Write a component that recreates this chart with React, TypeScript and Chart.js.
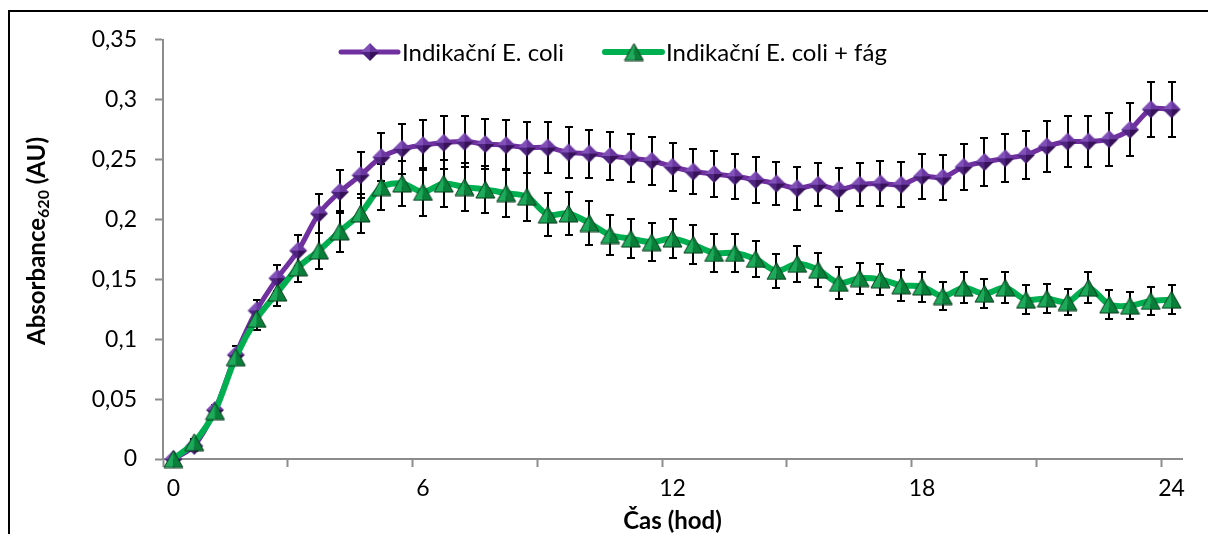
import React, { useEffect, useRef } from 'react';
import { Chart, registerables } from 'chart.js';

Chart.register(...registerables);

// ---- data ----
const hours = [0, 0.5, 1, 1.5, 2, 2.5, 3, 3.5, 4, 4.5, 5, 5.5, 6, 6.5, 7, 7.5, 8, 8.5, 9, 9.5, 10, 10.5, 11, 11.5, 12, 12.5, 13, 13.5, 14, 14.5, 15, 15.5, 16, 16.5, 17, 17.5, 18, 18.5, 19, 19.5, 20, 20.5, 21, 21.5, 22, 22.5, 23, 23.5, 24];
const labeledHours = [0, 6, 12, 18, 24];
const seriesNames = ['Indikační E. coli', 'Indikační E. coli + fág'];
const coliValues = [0, 0.011, 0.041, 0.087, 0.124, 0.151, 0.174, 0.205, 0.223, 0.237, 0.252, 0.259, 0.262, 0.264, 0.265, 0.263, 0.262, 0.260, 0.260, 0.256, 0.255, 0.253, 0.251, 0.249, 0.244, 0.240, 0.238, 0.236, 0.233, 0.230, 0.226, 0.229, 0.225, 0.229, 0.230, 0.229, 0.236, 0.235, 0.244, 0.248, 0.251, 0.254, 0.261, 0.265, 0.265, 0.267, 0.275, 0.292, 0.292];
const coliErrors = [0.002, 0.004, 0.004, 0.007, 0.009, 0.011, 0.013, 0.016, 0.018, 0.019, 0.020, 0.021, 0.021, 0.022, 0.021, 0.021, 0.021, 0.021, 0.021, 0.021, 0.020, 0.020, 0.020, 0.020, 0.020, 0.019, 0.019, 0.019, 0.019, 0.018, 0.018, 0.018, 0.018, 0.018, 0.019, 0.019, 0.019, 0.019, 0.019, 0.020, 0.020, 0.020, 0.021, 0.021, 0.021, 0.022, 0.022, 0.023, 0.023];
const phageValues = [0, 0.014, 0.040, 0.085, 0.117, 0.139, 0.160, 0.174, 0.190, 0.205, 0.227, 0.230, 0.223, 0.230, 0.227, 0.225, 0.222, 0.219, 0.204, 0.205, 0.197, 0.187, 0.184, 0.181, 0.184, 0.179, 0.172, 0.172, 0.167, 0.157, 0.163, 0.158, 0.147, 0.151, 0.150, 0.145, 0.144, 0.136, 0.143, 0.138, 0.143, 0.133, 0.134, 0.131, 0.143, 0.129, 0.128, 0.132, 0.133];
const phageErrors = [0.002, 0.003, 0.003, 0.004, 0.009, 0.011, 0.012, 0.015, 0.017, 0.016, 0.019, 0.019, 0.020, 0.020, 0.020, 0.020, 0.020, 0.020, 0.018, 0.018, 0.018, 0.017, 0.016, 0.016, 0.016, 0.016, 0.016, 0.016, 0.015, 0.014, 0.015, 0.014, 0.013, 0.013, 0.013, 0.013, 0.0125, 0.012, 0.013, 0.012, 0.013, 0.012, 0.012, 0.011, 0.013, 0.012, 0.0115, 0.012, 0.012];
const xTitle = 'Čas (hod)';
const yTitleMain = 'Absorbance';
const yTitleSub = '620';
const yTitleUnit = ' (AU)';

const FONT = 'Lato';
const PURPLE = '#7030A0';
const GREEN = '#00B050';
const AXIS = '#8C8C8C';

function makeDiamond(r: number): HTMLCanvasElement {
  const s = Math.ceil(r * 2) + 2;
  const c = document.createElement('canvas');
  c.width = s;
  c.height = s;
  const g = c.getContext('2d')!;
  const cx = s / 2, cy = s / 2;
  const T = [cx, cy - r], R = [cx + r, cy], B = [cx, cy + r], L = [cx - r, cy];
  const facets: [number[], number[], string][] = [
    [L, T, '#8050B8'],
    [T, R, '#6A36A0'],
    [R, B, '#381258'],
    [B, L, '#4E2480'],
  ];
  facets.forEach(([a, b, col]) => {
    g.beginPath();
    g.moveTo(cx, cy);
    g.lineTo(a[0], a[1]);
    g.lineTo(b[0], b[1]);
    g.closePath();
    g.fillStyle = col;
    g.fill();
  });
  return c;
}

function makeTriangle(w: number, h: number): HTMLCanvasElement {
  const c = document.createElement('canvas');
  c.width = w + 2;
  c.height = h + 2;
  const g = c.getContext('2d')!;
  const ax = (w + 2) / 2, ay = 1;
  const bl = [1, h + 1], br = [w + 1, h + 1];
  const mid = [ax, h + 1];
  g.beginPath();
  g.moveTo(ax, ay); g.lineTo(bl[0], bl[1]); g.lineTo(mid[0], mid[1]); g.closePath();
  g.fillStyle = '#1DAA5A';
  g.fill();
  g.beginPath();
  g.moveTo(ax, ay); g.lineTo(mid[0], mid[1]); g.lineTo(br[0], br[1]); g.closePath();
  g.fillStyle = '#0A7F3A';
  g.fill();
  g.beginPath();
  g.moveTo(ax, ay); g.lineTo(bl[0], bl[1]); g.lineTo(br[0], br[1]); g.closePath();
  g.strokeStyle = '#0B3A1C';
  g.lineWidth = 1;
  g.stroke();
  return c;
}

function fmtNum(v: number): string {
  const r = Math.round(v * 100) / 100;
  return String(r).replace('.', ',');
}

export default function App() {
  const ref = useRef<HTMLCanvasElement | null>(null);

  useEffect(() => {
    const canvas = ref.current;
    if (!canvas) return;
    const diamond = makeDiamond(9);
    const triangle = makeTriangle(19, 17);
    const markers = [triangle, diamond];
    const errorSets = [phageErrors, coliErrors];

    const errorBarPlugin = {
      id: 'errorBars',
      beforeDatasetsDraw(chart: any) {
        const ctx = chart.ctx;
        const ys = chart.scales.y;
        ctx.save();
        ctx.strokeStyle = '#000';
        ctx.lineWidth = 2;
        chart.data.datasets.forEach((ds: any, di: number) => {
          const meta = chart.getDatasetMeta(di);
          const errs = errorSets[di];
          meta.data.forEach((pt: any, i: number) => {
            const v = ds.data[i] as number;
            const e = errs[i];
            const x = Math.round(pt.x);
            const yt = Math.round(ys.getPixelForValue(v + e));
            const yb = Math.round(ys.getPixelForValue(v - e));
            ctx.beginPath();
            ctx.moveTo(x, yt);
            ctx.lineTo(x, yb);
            ctx.moveTo(x - 4, yt);
            ctx.lineTo(x + 4, yt);
            ctx.moveTo(x - 4, yb);
            ctx.lineTo(x + 4, yb);
            ctx.stroke();
          });
        });
        ctx.restore();
      },
    };

    const legendPlugin = {
      id: 'customLegend',
      afterDraw(chart: any) {
        const ctx = chart.ctx;
        ctx.save();
        ctx.font = `24px ${FONT}`;
        ctx.textBaseline = 'middle';
        ctx.textAlign = 'left';
        const y = 44;
        let x = 333;
        const items = [
          { name: seriesNames[0], color: PURPLE, width: 5, marker: diamond },
          { name: seriesNames[1], color: GREEN, width: 6, marker: triangle },
        ];
        items.forEach((it) => {
          ctx.strokeStyle = it.color;
          ctx.lineWidth = it.width;
          ctx.lineCap = 'round';
          ctx.beginPath();
          ctx.moveTo(x, y);
          ctx.lineTo(x + 57, y);
          ctx.stroke();
          ctx.drawImage(it.marker, x + 29 - it.marker.width / 2, y - it.marker.height / 2);
          ctx.fillStyle = '#000';
          ctx.fillText(it.name, x + 61, y + 1);
          x = x + 61 + ctx.measureText(it.name).width + 41;
        });
        ctx.restore();
      },
    };

    const titlePlugin = {
      id: 'axisTitles',
      afterDraw(chart: any) {
        const ctx = chart.ctx;
        const area = chart.chartArea;
        ctx.save();
        ctx.fillStyle = '#000';
        ctx.font = `bold 24px ${FONT}`;
        ctx.textAlign = 'center';
        ctx.textBaseline = 'middle';
        ctx.fillText(xTitle, (area.left + area.right) / 2, 513);

        ctx.translate(37, 233);
        ctx.rotate(-Math.PI / 2);
        ctx.textAlign = 'left';
        ctx.textBaseline = 'alphabetic';
        const mainFont = `bold 24px ${FONT}`;
        const subFont = `bold 16px ${FONT}`;
        ctx.font = mainFont;
        const w1 = ctx.measureText(yTitleMain).width;
        const w3 = ctx.measureText(yTitleUnit).width;
        ctx.font = subFont;
        const w2 = ctx.measureText(yTitleSub).width;
        let sx = -(w1 + w2 + w3) / 2;
        ctx.font = mainFont;
        ctx.fillText(yTitleMain, sx, 0);
        sx += w1;
        ctx.font = subFont;
        ctx.fillText(yTitleSub, sx, 4);
        sx += w2;
        ctx.font = mainFont;
        ctx.fillText(yTitleUnit, sx, 0);
        ctx.restore();
      },
    };

    const chart = new Chart(canvas, {
      type: 'line',
      data: {
        labels: hours.map((h) => String(h)),
        datasets: [
          {
            label: seriesNames[1],
            data: phageValues,
            borderColor: GREEN,
            backgroundColor: GREEN,
            borderWidth: 6,
            pointStyle: markers[0] as any,
            pointRadius: 9,
            pointHoverRadius: 9,
            tension: 0.3,
            clip: false as any,
          },
          {
            label: seriesNames[0],
            data: coliValues,
            borderColor: PURPLE,
            backgroundColor: PURPLE,
            borderWidth: 5,
            pointStyle: markers[1] as any,
            pointRadius: 9,
            pointHoverRadius: 9,
            tension: 0.3,
            clip: false as any,
          },
        ],
      },
      options: {
        responsive: false,
        animation: false,
        events: [],
        layout: { padding: { top: 30.5, right: 26, left: 0, bottom: 0 } },
        plugins: {
          legend: { display: false },
          tooltip: { enabled: false },
          title: { display: false },
        },
        scales: {
          x: {
            type: 'category',
            offset: true,
            grid: {
              display: true,
              offset: true,
              drawOnChartArea: false,
              drawTicks: true,
              tickLength: 8,
              tickWidth: 2,
              tickColor: (c: any) => (c.index % 6 === 0 && c.index < hours.length ? AXIS : 'rgba(0,0,0,0)'),
              color: 'rgba(0,0,0,0)',
            },
            border: { display: true, color: AXIS, width: 2 },
            ticks: {
              autoSkip: false,
              maxRotation: 0,
              minRotation: 0,
              padding: 8,
              color: '#000',
              font: { family: FONT, size: 23 },
              callback: (_v: any, i: number) => (labeledHours.includes(hours[i]) ? String(hours[i]) : ''),
            },
            afterFit: (s: any) => {
              s.height = 75;
            },
          },
          y: {
            min: 0,
            max: 0.35,
            grid: {
              display: true,
              drawOnChartArea: false,
              drawTicks: true,
              tickLength: 8,
              tickWidth: 2,
              tickColor: AXIS,
              color: AXIS,
            },
            border: { display: true, color: AXIS, width: 2 },
            ticks: {
              stepSize: 0.05,
              padding: 18,
              color: '#000',
              font: { family: FONT, size: 23 },
              callback: (v: any) => fmtNum(Number(v)),
            },
            afterFit: (s: any) => {
              s.width = 155;
            },
          },
        },
      },
      plugins: [errorBarPlugin, legendPlugin, titlePlugin],
    });

    return () => chart.destroy();
  }, []);

  return (
    <div style={{ position: 'absolute', left: 8, top: 8, width: 1200, height: 526, overflow: 'hidden', background: '#fff' }}>
      <div
        style={{
          position: 'absolute',
          left: 0,
          top: 2,
          width: 1260,
          height: 600,
          border: '2px solid #000',
          boxSizing: 'border-box',
        }}
      />
      <canvas ref={ref} width={1200} height={526} style={{ position: 'absolute', left: 0, top: 0, display: 'block' }} />
    </div>
  );
}
